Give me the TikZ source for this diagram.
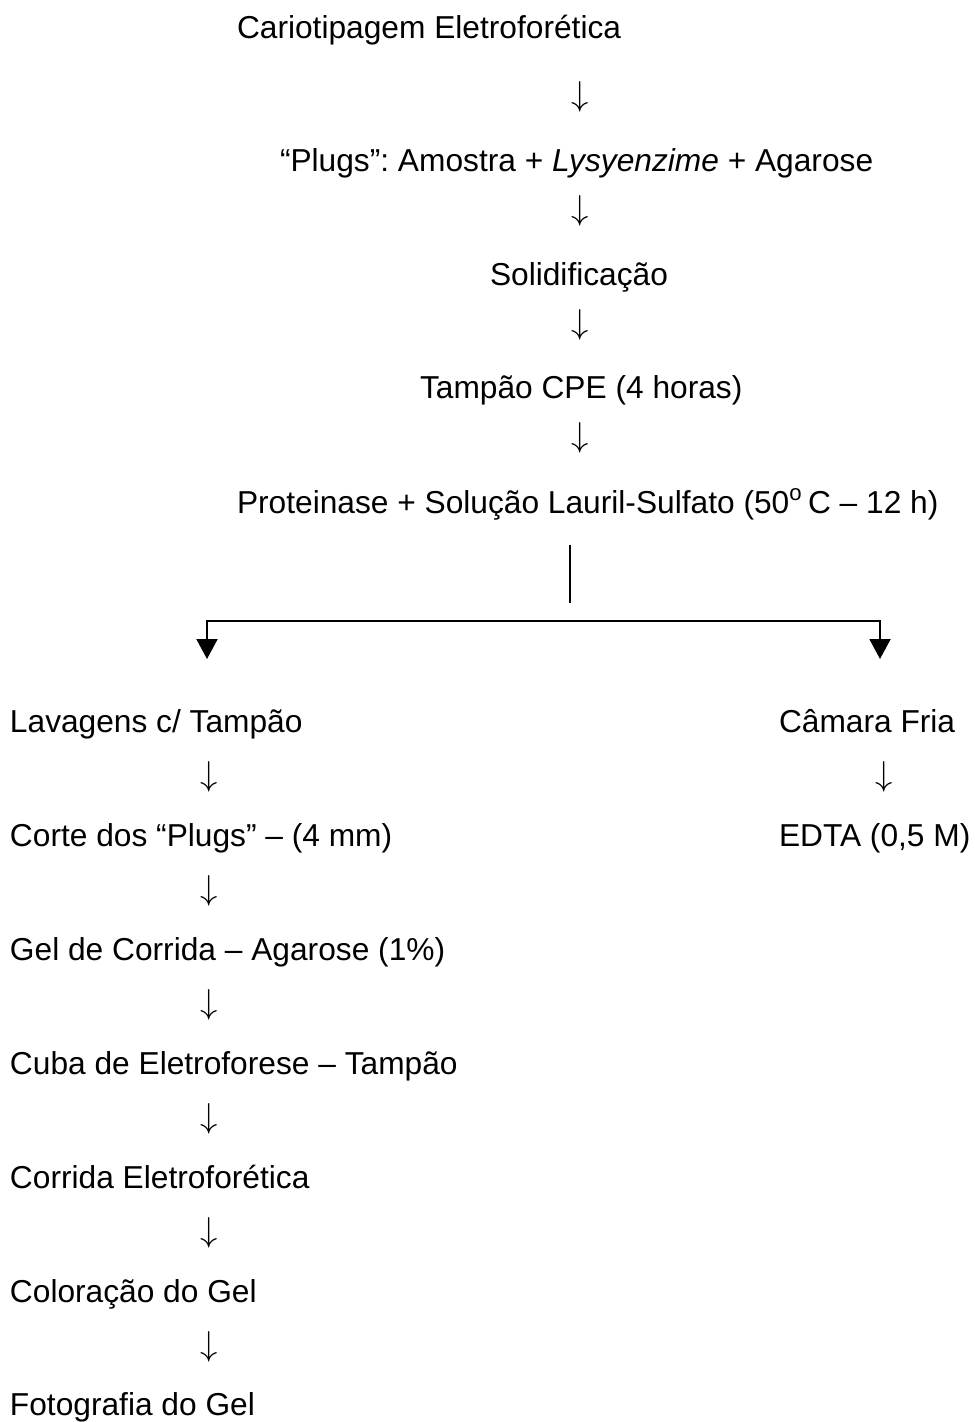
\documentclass[tikz,border=0pt]{standalone}
\usepackage{fontspec}
\setmainfont{Liberation Sans}
\usetikzlibrary{arrows.meta}
\begin{document}
\begin{tikzpicture}[x=0.5pt,y=-0.5pt,
  txt/.style={inner sep=0pt, outer sep=0pt, anchor=base west, font=\fontsize{15.85pt}{19pt}\selectfont\frenchspacing},
  dn/.style={inner sep=0pt, outer sep=0pt, anchor=center, font=\fontsize{16.3pt}{18pt}\selectfont},
  branch/.style={line width=1pt, {Triangle[width=10.5pt,length=10pt]}-{Triangle[width=10.5pt,length=10pt]}},
  stem/.style={line width=0.65pt}]
\useasboundingbox (0,0) rectangle (974,1422);
% top column
\node[txt] (t1) at (237,39) {Cariotipagem Eletroforética};
\node[dn] (a1) at (580,97) {$\downarrow$};
\node[txt] (t2) at (280,172) {“Plugs”: Amostra + \textit{Lysyenzime} + Agarose};
\node[dn] (a2) at (580,211) {$\downarrow$};
\node[txt] (t3) at (490,286) {Solidificação};
\node[dn] (a3) at (580,325) {$\downarrow$};
\node[txt] (t4) at (420,399) {Tampão CPE (4 horas)};
\node[dn] (a4) at (580,438) {$\downarrow$};
\node[txt] (t5) at (237,513) {Proteinase + Solução Lauril-Sulfato (50\textsuperscript{o}\,C – 12 h)};
% branch
\coordinate (s1) at (570,545);
\coordinate (s2) at (570,603);
\draw[stem] (s1) -- (s2);
\coordinate (cm) at (570,621);
\coordinate (bl) at (207,659);
\coordinate (br) at (880,659);
\draw[branch] (bl) |- (cm) -| (br);
% left column
\node[txt] (l1) at (10,732) {Lavagens c/ Tampão};
\node[dn] (la1) at (209,777) {$\downarrow$};
\node[txt] (l2) at (10,846) {Corte dos “Plugs” – (4 mm)};
\node[dn] (la2) at (209,891) {$\downarrow$};
\node[txt] (l3) at (10,960) {Gel de Corrida – Agarose (1\%)};
\node[dn] (la3) at (209,1005) {$\downarrow$};
\node[txt] (l4) at (10,1074) {Cuba de Eletroforese – Tampão};
\node[dn] (la4) at (209,1119) {$\downarrow$};
\node[txt] (l5) at (10,1188) {Corrida Eletroforética};
\node[dn] (la5) at (209,1233) {$\downarrow$};
\node[txt] (l6) at (10,1302) {Coloração do Gel};
\node[dn] (la6) at (209,1347) {$\downarrow$};
\node[txt] (l7) at (10,1415) {Fotografia do Gel};
% right column
\node[txt] (r1) at (779,732) {Câmara Fria};
\node[dn] (ra1) at (884,777) {$\downarrow$};
\node[txt] (r2) at (779,846) {EDTA (0,5 M)};
\end{tikzpicture}
\end{document}
